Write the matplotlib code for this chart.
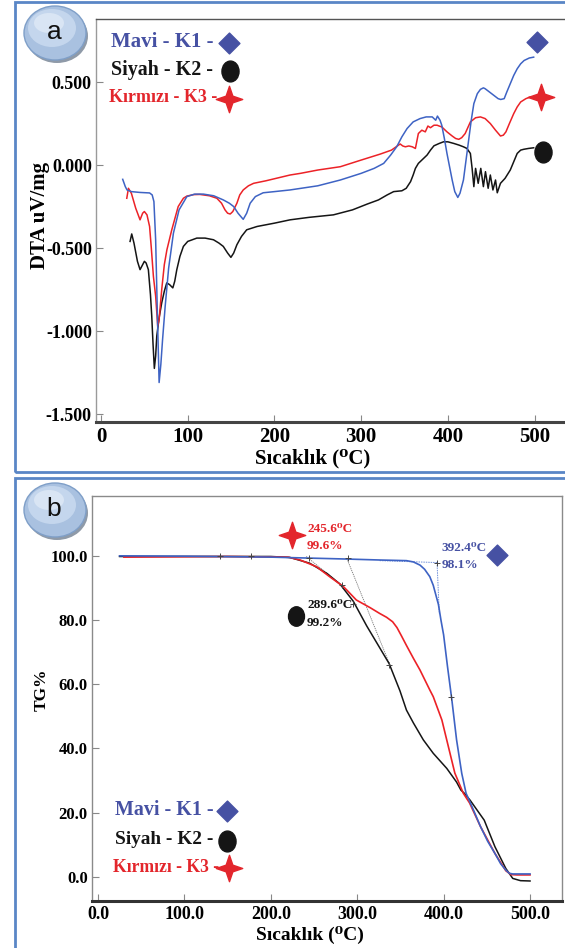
import matplotlib
matplotlib.use("Agg")
import matplotlib.pyplot as plt
from matplotlib.patches import Ellipse, Rectangle
from matplotlib.path import Path
from matplotlib.transforms import Affine2D
from matplotlib.lines import Line2D

# ---------------- DATA ----------------
# Panel a : DTA (uV/mg) vs temperature (C)
dta_k1_x = [25, 28, 30, 35, 45, 56, 59, 61, 63, 65, 67, 69, 71, 74, 78, 83.5, 90, 99, 108, 118, 130, 141, 148, 153, 158, 164,
            168, 172, 178, 187, 200, 218, 250, 276, 300, 315, 326, 334, 341, 347, 353, 360, 368, 375, 382, 386, 388, 391, 393,
            396, 399, 402, 405, 408, 411.5, 414, 418, 421, 424, 427, 430, 434, 437.6, 441, 443, 448, 453, 458, 461, 465, 468,
            472, 476, 480, 484, 488, 494, 499]
dta_k1_y = [-0.086, -0.13, -0.15, -0.16, -0.165, -0.168, -0.18, -0.22, -0.45, -0.9, -1.31, -1.2, -1.05, -0.85, -0.62, -0.41,
            -0.27, -0.19, -0.175, -0.175, -0.185, -0.21, -0.23, -0.25, -0.29, -0.327, -0.29, -0.23, -0.19, -0.167, -0.16, -0.15,
            -0.125, -0.09, -0.05, -0.02, 0.01, 0.06, 0.11, 0.17, 0.22, 0.26, 0.28, 0.29, 0.29, 0.27, 0.295, 0.27, 0.24, 0.16,
            0.07, -0.01, -0.09, -0.16, -0.195, -0.17, -0.09, 0.03, 0.15, 0.27, 0.37, 0.43, 0.456, 0.465, 0.46, 0.44, 0.42, 0.40,
            0.395, 0.40, 0.44, 0.49, 0.54, 0.58, 0.61, 0.63, 0.645, 0.65]

dta_k2_x = [33.5, 35.4, 38, 42, 45, 48, 50, 52, 54.6, 57, 58.5, 60, 61.5, 63, 64.3, 67, 70, 73, 75.8, 79, 82.8, 85, 87.4, 91,
            95, 100, 110.5, 120, 129.7, 136, 141, 146, 149.8, 153, 156.7, 162, 168, 180, 200, 218, 240, 268, 290, 307, 320,
            330, 337.5, 347, 352, 357, 360, 362.6, 366, 371, 376, 380, 384, 390, 395, 400, 407, 413, 418, 422, 426, 428, 430,
            432, 435, 438, 441, 443.4, 446.5, 449, 452, 455, 457, 460.7, 466, 472, 476, 480, 484, 487.6, 493, 499]
dta_k2_y = [-0.46, -0.415, -0.47, -0.58, -0.63, -0.60, -0.58, -0.59, -0.63, -0.78, -0.91, -1.08, -1.225, -1.15, -1.03, -0.92,
            -0.83, -0.76, -0.71, -0.72, -0.74, -0.70, -0.63, -0.55, -0.49, -0.46, -0.44, -0.44, -0.45, -0.47, -0.49, -0.53,
            -0.556, -0.53, -0.48, -0.43, -0.39, -0.37, -0.35, -0.33, -0.315, -0.30, -0.27, -0.235, -0.21, -0.18, -0.16, -0.155,
            -0.14, -0.10, -0.06, -0.02, 0.01, 0.035, 0.06, 0.09, 0.116, 0.13, 0.14, 0.14, 0.13, 0.12, 0.11, 0.10, 0.07, -0.02,
            -0.13, -0.02, -0.11, -0.02, -0.13, -0.04, -0.14, -0.06, -0.15, -0.09, -0.167, -0.11, -0.08, -0.03, 0.02, 0.07,
            0.09, 0.095, 0.10, 0.104]

dta_k3_x = [29.7, 31.6, 35, 40, 45, 48, 50, 53, 56, 58, 60.4, 63, 65.4, 67, 70, 73, 76, 81.6, 89, 95, 99, 107, 114, 125, 133.6,
            139, 143, 146, 149, 152, 156.7, 160, 164, 170, 176, 190, 218, 230, 250, 276, 300, 322, 335, 345, 348, 351, 355,
            359, 362.6, 366, 370, 374, 377, 380, 384, 387.6, 390, 393, 399, 405, 409, 412.6, 416, 420, 426, 432, 437.6, 443,
            449, 455, 460.7, 464, 467, 471, 476, 480, 484, 490, 495]
dta_k3_y = [-0.2, -0.14, -0.17, -0.26, -0.33, -0.29, -0.28, -0.30, -0.37, -0.5, -0.67, -0.79, -0.97, -0.93, -0.75, -0.6, -0.51,
            -0.39, -0.25, -0.2, -0.187, -0.178, -0.177, -0.185, -0.2, -0.23, -0.27, -0.29, -0.295, -0.28, -0.23, -0.18, -0.15,
            -0.125, -0.11, -0.095, -0.06, -0.05, -0.03, -0.01, 0.03, 0.066, 0.09, 0.127, 0.115, 0.11, 0.115, 0.11, 0.10, 0.19,
            0.21, 0.20, 0.235, 0.225, 0.24, 0.24, 0.235, 0.23, 0.20, 0.175, 0.16, 0.155, 0.165, 0.19, 0.26, 0.285, 0.29, 0.28,
            0.25, 0.21, 0.175, 0.18, 0.20, 0.25, 0.31, 0.35, 0.38, 0.40, 0.41]

# end-of-curve symbols in panel a (x, y)
dta_sym_x = [503, 510, 507.5]
dta_sym_y = [0.741, 0.078, 0.41]

# Panel b : TG (%) vs temperature (C)
tg_k1_x = [25, 100, 200, 288, 326, 357, 365, 372.7, 378, 384, 388, 390.5, 394, 397, 400, 404.5, 409.4, 415, 421, 426, 435,
           442.7, 451, 459.4, 466, 472, 476, 480, 500]
tg_k1_y = [100.2, 100.1, 99.8, 99.2, 98.9, 98.7, 98.3, 97.3, 96, 93.7, 91, 88.5, 85, 80, 75.5, 65.6, 55.5, 42.7, 32.2, 26, 20.5,
           15.6, 11, 7.2, 4, 2.0, 1.0, 0.8, 0.8]

tg_k2_x = [25, 200, 222, 245, 265, 280, 295.5, 311, 326, 337, 349.5, 357, 365, 376.5, 388, 403.6, 415, 420, 424, 430.5, 447,
           459.4, 472, 480, 489, 500]
tg_k2_y = [100, 100, 99.7, 97.9, 94.7, 91.4, 86, 78.3, 71.5, 66.5, 58, 52, 48, 42.7, 38.5, 33.8, 29.5, 27, 26, 23.9, 17.6,
           9.3, 2.5, -0.6, -1.3, -1.4]

tg_k3_x = [30, 150, 220, 234, 253, 268, 284, 288, 299, 311, 315, 326, 334, 341, 346, 351, 357, 365, 372.7, 384, 388, 398, 404.5,
           413, 422.8, 430, 442.7, 459.4, 472, 478, 485, 500]
tg_k3_y = [99.8, 100.0, 99.8, 98.9, 96.8, 93.7, 90.6, 89.5, 86.4, 84.6, 84.0, 82.2, 81, 79.6, 77.8, 75.3, 72.2, 68.2, 64.5, 58.3,
           56.2, 48.9, 41.7, 32.3, 26, 23, 15.6, 7.2, 1.8, 0.6, 0.5, 0.5]

# onset constructions (tangent lines) and tick crosses
tan_a_x = [241, 282]
tan_a_y = [100, 91]
tan_b_x = [288, 338]
tan_b_y = [99.4, 66]
tan_blue_h_x = [326, 392.4]
tan_blue_h_y = [98.7, 98.1]
tan_blue_v_x = [392.4, 395]
tan_blue_v_y = [98.1, 82]
cross_x = [141, 177, 244, 289.6, 282, 295, 337, 392.4, 409]
cross_y = [100, 100, 99.6, 99.4, 91, 85, 66, 98.1, 56]

# onset annotations (order: red K3, black K2, blue K1)
onset_labels = ["245.6\u2070C\n99.6%", "289.6\u2070C\n99.2%", "392.4\u2070C\n98.1%"]
onset_text_x = [242, 242, 397.8]
onset_text_y = [105.9, 82.0, 100.0]
onset_sym_x = [224.5, 229, 461.5]
onset_sym_y = [106.7, 81.4, 100.5]

legend_labels = ["Mavi - K1 -", "Siyah - K2 -", "K\u0131rm\u0131z\u0131 - K3 -"]

dta_xticks = [0, 100, 200, 300, 400, 500]
dta_yticks = [0.5, 0.0, -0.5, -1.0, -1.5]
dta_yticklabels = ["0.500", "0.000", "-0.500", "-1.000", "-1.500"]
tg_xticks = [0, 100, 200, 300, 400, 500]
tg_xticklabels = ["0.0", "100.0", "200.0", "300.0", "400.0", "500.0"]
tg_yticks = [0, 20, 40, 60, 80, 100]
tg_yticklabels = ["0.0", "20.0", "40.0", "60.0", "80.0", "100.0"]

# ---------------- STYLE ----------------
W, H = 565, 948
BLUE = "#3e63c4"
BLUE_SYM = "#4651a3"
RED = "#ec2227"
RED_SYM = "#e3262c"
BLACK = "#151515"
SERIF = ["Liberation Serif", "DejaVu Serif"]
FRAME = "#5a86c6"

diamond = Path.unit_regular_polygon(4)
ellipse_marker = Path.unit_circle().transformed(Affine2D().scale(0.82, 1.0))
star4 = Path.unit_regular_star(4, innerCircle=0.36)
SYMS = [diamond, ellipse_marker, star4]
SYM_COL = [BLUE_SYM, BLACK, RED_SYM]
TXT_COL = [BLUE_SYM, BLACK, RED_SYM]
SYM_SIZE = [15, 15, 19]
LEG_FS_A = [15, 14.4, 13.0]
LEG_FS_B = [14.4, 13.9, 12.7]
LEG_X_A = [111, 111, 109]
LEG_X_B = [115, 115, 113]


def fx(px):
    return px / W


def fy(py):
    return 1 - py / H


fig = plt.figure(figsize=(W / 100, H / 100), dpi=100)
fig.patch.set_facecolor("white")

# panel frames
for (x0, y0, x1, y1) in [(15, 2, 580, 472), (15, 478, 580, 960)]:
    fig.patches.append(Rectangle((fx(x0), fy(y1)), fx(x1 - x0), (y1 - y0) / H, transform=fig.transFigure,
                                 fill=False, edgecolor=FRAME, linewidth=2.0, zorder=0))

# ---------------- PANEL A ----------------
axl, axr, axt, axb = 96, 600, 19.3, 421.7
ax1 = fig.add_axes([fx(axl), fy(axb), fx(axr - axl), (axb - axt) / H])
ax1.set_xlim(-5.8, 575.5)
ax1.set_ylim(-1.546, 0.878)
ax1.plot(dta_k3_x, dta_k3_y, color=RED, lw=1.1, zorder=3)
ax1.plot(dta_k1_x, dta_k1_y, color=BLUE, lw=1.1, zorder=4)
ax1.plot(dta_k2_x, dta_k2_y, color=BLACK, lw=1.1, zorder=2)
for i in range(3):
    ax1.plot([dta_sym_x[i]], [dta_sym_y[i]], marker=SYMS[i], color=SYM_COL[i], markersize=SYM_SIZE[i],
             linestyle="none", zorder=5)
ax1.set_xticks(dta_xticks)
ax1.set_xticklabels([str(t) for t in dta_xticks], fontfamily=SERIF, fontweight="bold", fontsize=15)
ax1.set_yticks(dta_yticks)
ax1.set_yticklabels(dta_yticklabels, fontfamily=SERIF, fontweight="bold", fontsize=13)
ax1.tick_params(axis="both", direction="in", length=5, width=0.8, color="#888888", pad=3)
ax1.tick_params(axis="x", pad=4)
ax1.spines["left"].set_color("#9a9a9a")
ax1.spines["left"].set_linewidth(1.0)
ax1.spines["bottom"].set_color("#444444")
ax1.spines["bottom"].set_linewidth(2.2)
ax1.spines["top"].set_color("#555555")
ax1.spines["top"].set_linewidth(1.0)
ax1.spines["right"].set_visible(False)

fig.text(fx(313), fy(458), "S\u0131cakl\u0131k (\u2070C)", ha="center", va="center", fontfamily=SERIF,
         fontweight="bold", fontsize=15)
fig.text(fx(40), fy(215), "DTA uV/mg", ha="center", va="center", rotation=90, fontfamily=SERIF,
         fontweight="bold", fontsize=15)

# legend a
leg_a_y = [42, 70, 98]
leg_a_sym_x = [229, 230, 229]
for i in range(3):
    fig.text(fx(LEG_X_A[i]), fy(leg_a_y[i]), legend_labels[i], ha="left", va="center", color=TXT_COL[i],
             fontfamily=SERIF, fontweight="bold", fontsize=LEG_FS_A[i])
    fig.add_artist(Line2D([fx(leg_a_sym_x[i])], [fy(leg_a_y[i] + 1)], transform=fig.transFigure, marker=SYMS[i],
                          color=SYM_COL[i], markersize=SYM_SIZE[i], linestyle="none"))

# ---------------- PANEL B ----------------
bxl, bxr, bxt, bxb = 92, 562, 496, 900.7
ax2 = fig.add_axes([fx(bxl), fy(bxb), fx(bxr - bxl), (bxb - bxt) / H])
ax2.set_xlim(-6.9, 537)
ax2.set_ylim(-7.56, 118.9)
ax2.plot(tg_k2_x, tg_k2_y, color=BLACK, lw=1.1, zorder=3)
ax2.plot(tg_k3_x, tg_k3_y, color=RED, lw=1.2, zorder=4)
ax2.plot(tg_k1_x, tg_k1_y, color=BLUE, lw=1.2, zorder=5)
ax2.plot(tan_a_x, tan_a_y, color="#777777", lw=0.6, ls=(0, (1.5, 1)), zorder=2)
ax2.plot(tan_b_x, tan_b_y, color="#777777", lw=0.6, ls=(0, (1.5, 1)), zorder=2)
ax2.plot(tan_blue_h_x, tan_blue_h_y, color="#6f8fd8", lw=0.7, ls=(0, (1.5, 1)), zorder=2)
ax2.plot(tan_blue_v_x, tan_blue_v_y, color="#6f8fd8", lw=0.7, ls=(0, (1.5, 1)), zorder=2)
ax2.plot(cross_x, cross_y, marker="+", color="#444444", markersize=5, mew=0.7, linestyle="none", zorder=6)

sizes_b = [15, 14, 19]
onset_order = [2, 1, 0]  # red, black, blue symbols
for j, i in enumerate(onset_order):
    ax2.plot([onset_sym_x[j]], [onset_sym_y[j]], marker=SYMS[i], color=SYM_COL[i], markersize=sizes_b[i],
             linestyle="none", zorder=7)
    ax2.text(onset_text_x[j], onset_text_y[j], onset_labels[j], ha="left", va="center", color=TXT_COL[i],
             fontfamily=SERIF, fontweight="bold", fontsize=9.5, linespacing=1.6, zorder=7)

ax2.set_xticks(tg_xticks)
ax2.set_xticklabels(tg_xticklabels, fontfamily=SERIF, fontweight="bold", fontsize=13)
ax2.set_yticks(tg_yticks)
ax2.set_yticklabels(tg_yticklabels, fontfamily=SERIF, fontweight="bold", fontsize=12)
ax2.tick_params(axis="both", direction="in", length=5, width=0.8, color="#888888", pad=3)
ax2.tick_params(axis="x", pad=4)
for s in ["left", "top", "right"]:
    ax2.spines[s].set_color("#8a8a8a")
    ax2.spines[s].set_linewidth(1.0)
ax2.spines["bottom"].set_color("#333333")
ax2.spines["bottom"].set_linewidth(2.2)

fig.text(fx(310), fy(935), "S\u0131cakl\u0131k (\u2070C)", ha="center", va="center", fontfamily=SERIF,
         fontweight="bold", fontsize=14)
fig.text(fx(42), fy(690), "TG%", ha="center", va="center", rotation=90, fontfamily=SERIF,
         fontweight="bold", fontsize=12.5)

leg_b_y = [810, 840, 867]
leg_b_sym_x = [227, 227, 229]
for i in range(3):
    fig.text(fx(LEG_X_B[i]), fy(leg_b_y[i]), legend_labels[i], ha="left", va="center", color=TXT_COL[i],
             fontfamily=SERIF, fontweight="bold", fontsize=LEG_FS_B[i])
    fig.add_artist(Line2D([fx(leg_b_sym_x[i])], [fy(leg_b_y[i] + 1)], transform=fig.transFigure, marker=SYMS[i],
                          color=SYM_COL[i], markersize=SYM_SIZE[i], linestyle="none"))

# ---------------- BADGES ----------------
for (cx, cy, lab) in [(55, 33, "a"), (55, 510, "b")]:
    fig.patches.append(Ellipse((fx(cx + 2), fy(cy + 3)), 62 / W, 54 / H, transform=fig.transFigure,
                               facecolor="#8f9aa8", edgecolor="none", zorder=5))
    fig.patches.append(Ellipse((fx(cx), fy(cy)), 62 / W, 54 / H, transform=fig.transFigure,
                               facecolor="#a9c1e0", edgecolor="#7f9fc8", linewidth=1.0, zorder=6))
    fig.patches.append(Ellipse((fx(cx - 3), fy(cy - 5)), 48 / W, 38 / H, transform=fig.transFigure,
                               facecolor="#c4d6ed", edgecolor="none", zorder=6))
    fig.patches.append(Ellipse((fx(cx - 6), fy(cy - 10)), 30 / W, 20 / H, transform=fig.transFigure,
                               facecolor="#d9e5f4", edgecolor="none", zorder=6))
    fig.text(fx(cx - 1), fy(cy - 1), lab, ha="center", va="center", fontsize=19,
             fontfamily=["Liberation Sans", "DejaVu Sans"], color="#111111", zorder=7)

fig.savefig("out.png", dpi=100)
